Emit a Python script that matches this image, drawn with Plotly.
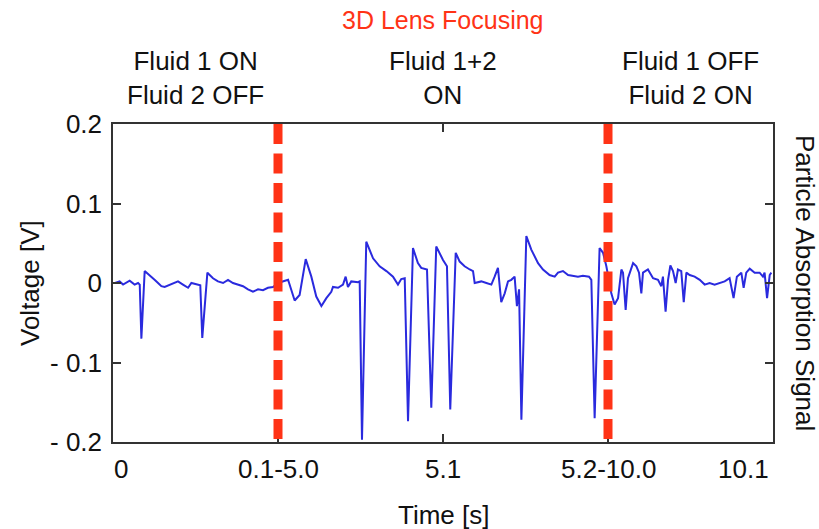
import plotly.graph_objects as go

# Time axis position (each unit = one labelled tick interval) and voltage [V]
t_pos = [0.012, 0.040, 0.061, 0.101, 0.131, 0.152, 0.162, 0.172, 0.192, 0.222,
         0.252, 0.273, 0.293, 0.313, 0.344, 0.364, 0.394, 0.424, 0.455, 0.475,
         0.505, 0.529, 0.541, 0.572, 0.606, 0.636, 0.667, 0.697, 0.727, 0.758,
         0.788, 0.818, 0.848, 0.879, 0.909, 0.939, 0.970, 1.000, 1.030, 1.061,
         1.101, 1.131, 1.168, 1.202, 1.232, 1.263, 1.293, 1.323, 1.333, 1.364,
         1.394, 1.410, 1.424, 1.444, 1.485, 1.495, 1.509, 1.535, 1.576, 1.616,
         1.657, 1.697, 1.727, 1.747, 1.768, 1.788, 1.818, 1.848, 1.868, 1.903,
         1.929, 1.959, 2.000, 2.024, 2.044, 2.077, 2.101, 2.131, 2.162, 2.182,
         2.192, 2.232, 2.263, 2.293, 2.313, 2.333, 2.353, 2.374, 2.394, 2.414,
         2.434, 2.448, 2.461, 2.475, 2.505, 2.535, 2.576, 2.606, 2.646, 2.677,
         2.697, 2.727, 2.758, 2.788, 2.818, 2.848, 2.885, 2.899, 2.919, 2.949,
         2.970, 2.990, 3.020, 3.040, 3.061, 3.081, 3.091, 3.107, 3.121, 3.152,
         3.172, 3.188, 3.202, 3.212, 3.242, 3.273, 3.303, 3.323, 3.333, 3.349,
         3.364, 3.378, 3.394, 3.410, 3.424, 3.444, 3.459, 3.475, 3.495, 3.525,
         3.556, 3.586, 3.616, 3.646, 3.677, 3.707, 3.737, 3.761, 3.781, 3.808,
         3.822, 3.838, 3.859, 3.889, 3.919, 3.939, 3.949, 3.964, 3.980, 3.990]

voltage = [0.000, 0.002, -0.002, 0.003, -0.002, 0.000, -0.002, -0.070, 0.015, 0.010,
           0.004, 0.000, -0.004, -0.005, -0.002, -0.001, 0.002, -0.002, -0.006, 0.000,
           -0.002, -0.003, -0.069, 0.013, 0.006, 0.002, 0.000, 0.004, 0.000, -0.002,
           -0.004, -0.008, -0.011, -0.008, -0.009, -0.006, -0.005, 0.000, 0.002, 0.004,
           -0.022, -0.015, 0.030, 0.008, -0.017, -0.029, -0.019, -0.011, -0.005, -0.006,
           -0.002, 0.008, -0.005, 0.002, 0.001, 0.002, -0.197, 0.052, 0.031, 0.021,
           0.015, 0.008, -0.002, 0.005, 0.006, -0.174, 0.044, 0.025, 0.019, 0.017,
           -0.157, 0.046, 0.029, 0.021, -0.159, 0.038, 0.027, 0.021, 0.017, 0.015,
           0.000, 0.002, 0.000, -0.002, 0.008, 0.019, -0.024, -0.013, 0.002, 0.004,
           0.008, -0.029, -0.008, -0.172, 0.059, 0.042, 0.025, 0.017, 0.010, 0.008,
           0.013, 0.015, 0.010, 0.009, 0.008, 0.009, 0.008, 0.004, -0.170, 0.044,
           0.038, 0.021, -0.013, -0.027, -0.019, 0.017, 0.013, -0.034, 0.006, 0.025,
           0.021, 0.013, -0.013, 0.013, 0.017, 0.006, 0.004, -0.004, 0.008, -0.036,
           0.004, 0.022, 0.015, 0.000, 0.017, 0.015, -0.024, 0.013, 0.010, 0.008,
           0.004, -0.002, 0.000, -0.002, 0.000, 0.002, 0.006, -0.019, 0.008, 0.013,
           -0.006, 0.013, 0.018, 0.013, 0.013, 0.008, 0.013, -0.019, 0.010, 0.013]

x_tick_pos = [0, 1, 2, 3, 4]
x_tick_labels = ["0", "0.1-5.0", "5.1", "5.2-10.0", "10.1"]
x_label_pos = [0.05, 1.0, 2.0, 3.0, 3.82]
y_tick_vals = [-0.2, -0.1, 0, 0.1, 0.2]
y_tick_labels = ["- 0.2", "- 0.1", "0", "0.1", "0.2"]
phase_lines = [1, 3]
phase_pos = [0.5, 2.0, 3.5]
phase_labels = ["Fluid 1 ON<br>Fluid 2 OFF", "Fluid 1+2<br>ON", "Fluid 1 OFF<br>Fluid 2 ON"]

RED = "#ff3316"
FONT = "Liberation Sans, Arial, sans-serif"

fig = go.Figure()
fig.add_trace(go.Scatter(x=t_pos, y=voltage, mode="lines",
                         line=dict(color="#2a2ade", width=2),
                         showlegend=False, hoverinfo="skip"))

for xv in phase_lines:
    fig.add_shape(type="line", xref="x", yref="y", x0=xv, x1=xv, y0=0.2, y1=-0.2,
                  line=dict(color=RED, width=9, dash="20px,9.5px"), layer="above")

annotations = []
for xp, lab in zip(x_label_pos, x_tick_labels):
    annotations.append(dict(x=xp, y=-0.2, xref="x", yref="y", text=lab, showarrow=False,
                            yanchor="top", yshift=-10, font=dict(size=26, color="#111", family=FONT)))
for xp, lab in zip(phase_pos, phase_labels):
    annotations.append(dict(x=xp, y=0.2, xref="x", yref="y", text=lab, showarrow=False,
                            yanchor="bottom", yshift=12, align="center",
                            font=dict(size=26, color="#111", family=FONT)))
annotations.append(dict(x=2.0, y=1, xref="x", yref="paper", text="3D Lens Focusing",
                        showarrow=False, yanchor="middle", yshift=104,
                        font=dict(size=25, color=RED, family=FONT)))
annotations.append(dict(x=2.0, y=0, xref="x", yref="paper", text="Time [s]",
                        showarrow=False, yanchor="middle", yshift=-73,
                        font=dict(size=26, color="#111", family=FONT)))
annotations.append(dict(x=0, y=0, xref="paper", yref="y", text="Voltage [V]",
                        showarrow=False, textangle=-90, xanchor="center", xshift=-83,
                        font=dict(size=26, color="#111", family=FONT)))
annotations.append(dict(x=1, y=0.0, xref="paper", yref="y", text="Particle Absorption Signal",
                        showarrow=False, textangle=90, xanchor="center", xshift=32,
                        font=dict(size=26, color="#111", family=FONT)))

fig.update_layout(
    width=819, height=529,
    margin=dict(l=113, r=46, t=124, b=87, autoexpand=False),
    paper_bgcolor="white", plot_bgcolor="white",
    annotations=annotations,
    xaxis=dict(range=[0, 4], tickvals=x_tick_pos, ticktext=["", "", "", "", ""],
               ticks="inside", ticklen=8, tickcolor="#333", tickwidth=1.5,
               showline=True, mirror="ticks", linecolor="#333", linewidth=1.5,
               showgrid=False, zeroline=False, automargin=False),
    yaxis=dict(range=[-0.2, 0.2], tickvals=y_tick_vals, ticktext=y_tick_labels,
               ticks="inside", ticklen=8, tickcolor="#333", tickwidth=1.5,
               showline=True, mirror="ticks", linecolor="#333", linewidth=1.5,
               showgrid=False, zeroline=False, ticklabelstandoff=4, automargin=False,
               tickfont=dict(size=26, color="#111", family=FONT)),
)

fig.write_html("out.html", config={"displayModeBar": False},
               post_script="document.body.style.margin='0';document.body.style.overflow='hidden';")
